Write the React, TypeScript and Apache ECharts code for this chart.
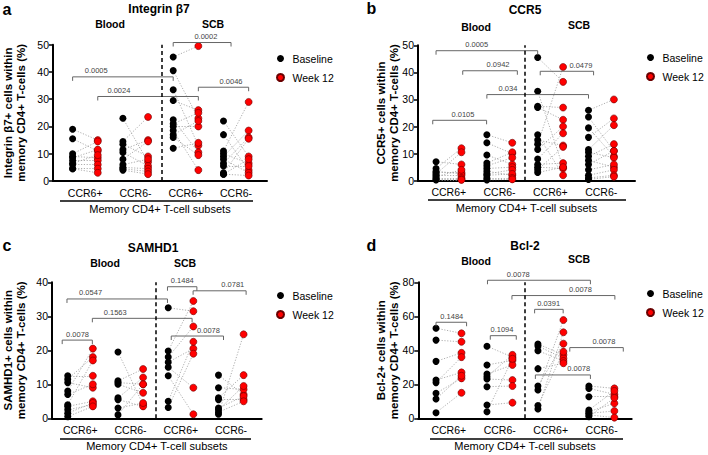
import { useEffect, useRef } from "react";
import * as echarts from "echarts";

// ---------- shared labels ----------
const subsetLabels = ["CCR6+", "CCR6-", "CCR6+", "CCR6-"];
const subsetLabelPositions = [1.5, 3.5, 5.5, 7.5];
const tissueLabels = ["Blood", "SCB"];
const xAxisTitle = "Memory CD4+ T-cell subsets";
const seriesNames = ["Baseline", "Week 12"];

// ---------- panel a: Integrin β7 ----------
const integrinBaseline = [
  [19, 15.5, 10, 9, 8.5, 7.5, 6.5, 6, 4.5, 4.5],
  [23, 14.5, 13.5, 11.5, 10.5, 8, 6, 5, 4.5, 4],
  [45.5, 40.5, 33.5, 29.5, 22.5, 21, 20, 18.5, 17, 16, 12],
  [22, 17, 11, 10, 9, 8, 6.5, 5.5, 3, 2.5, 2.5],
];
const integrinWeek12 = [
  [15, 11, 14.5, 8.5, 11.5, 7.5, 9.5, 6, 4.5, 3],
  [7, 23.5, 9, 15, 5.5, 14.5, 8, 4.5, 3.5, 2.5],
  [49.5, 23, 13, 26, 10.5, 25, 20, 4, 22, 9.5, 14],
  [9, 4, 29, 6.5, 18.5, 3, 16, 5.5, 15.5, 8, 2],
];
const integrinTicks = [0, 10, 20, 30, 40, 50];
const integrinComparisons = [
  { from: 1, to: 5, level: 38.2, labelAt: 1.94, p: "0.0005" },
  { from: 2, to: 6, level: 31, labelAt: 2.84, p: "0.0024" },
  { from: 5, to: 7.3, level: 50.8, labelAt: 6.3, p: "0.0002" },
  { from: 6, to: 8, level: 34.4, labelAt: 7.3, p: "0.0046" },
];

// ---------- panel b: CCR5 ----------
const ccr5Baseline = [
  [7, 4.5, 3.5, 3, 2.5, 2, 1.5, 1, 0.5, 0.3],
  [17, 14, 9.5, 6.5, 5.5, 4.5, 3.5, 2.5, 2, 1, 0.3],
  [45.5, 33, 27.5, 27, 17, 15, 13.5, 11.5, 8, 6, 5, 4, 3],
  [26, 23.5, 19.5, 16, 11.5, 10.5, 9, 7.5, 6, 4, 2, 1, 0.5],
];
const ccr5Week12 = [
  [6, 12, 2.5, 3, 10.5, 2, 4, 1, 0.5, 0.3],
  [14, 10, 6, 10.5, 8.5, 5, 2, 4, 2.5, 1, 0.5],
  [36.5, 5, 27, 22.5, 2, 13, 42, 20, 17.5, 6.5, 4.5, 12.5, 5],
  [30, 11, 9, 23, 20.5, 8.5, 13.5, 5, 11, 6, 4, 2, 1.5],
];
const ccr5Ticks = [0, 10, 20, 30, 40, 50];
const ccr5Comparisons = [
  { from: 1, to: 5, level: 48, labelAt: 2.6, p: "0.0005" },
  { from: 2.05, to: 4.2, level: 40.6, labelAt: 3.44, p: "0.0942" },
  { from: 3, to: 7, level: 31.8, labelAt: 3.83, p: "0.034" },
  { from: 5.1, to: 7.2, level: 40.4, labelAt: 6.7, p: "0.0479" },
  { from: 0.87, to: 2.99, level: 22.3, labelAt: 2.06, p: "0.0105" },
];

// ---------- panel c: SAMHD1 ----------
const samhd1Baseline = [
  [12.5, 11.5, 10.5, 8, 7, 4, 3.5, 2.5, 1.5, 0.5],
  [19.5, 11, 10.5, 10, 6, 5.5, 3, 1],
  [32.5, 19.8, 18, 16.5, 15, 12.5, 5, 3.2],
  [12.7, 9, 6, 5.5, 3, 2.5, 1.8, 1.2],
];
const samhd1Week12 = [
  [12.5, 18, 9, 20.5, 10, 17, 5, 4, 4.5, 3.5],
  [4, 14.5, 10, 7.5, 12, 3.5, 4.5, 10],
  [31.5, 34.5, 27, 20.5, 9, 1.2, 22.5, 19],
  [7, 8.5, 12.7, 5.5, 6.5, 9.5, 5, 24.7],
];
const samhd1Ticks = [0, 10, 20, 30, 40];
const samhd1Comparisons = [
  { from: 0.97, to: 4.97, level: 35.1, labelAt: 1.91, p: "0.0547" },
  { from: 1.98, to: 5.95, level: 29.4, labelAt: 2.89, p: "0.1563" },
  { from: 0.78, to: 1.98, level: 23, labelAt: 1.39, p: "0.0078" },
  { from: 4.97, to: 6.14, level: 38.7, labelAt: 5.56, p: "0.1484" },
  { from: 5.99, to: 8.1, level: 37.5, labelAt: 7.57, p: "0.0781" },
  { from: 5.12, to: 7.2, level: 24.2, labelAt: 6.6, p: "0.0078" },
];

// ---------- panel d: Bcl-2 ----------
const bcl2Baseline = [
  [53, 46, 33.5, 22.5, 21, 14.7, 11.4, 3.3],
  [42.4, 31.4, 26, 24.5, 23.1, 18.6, 7.8, 3.9],
  [43.7, 42.5, 39.8, 29.2, 19, 16.7, 7.5, 5.5],
  [19, 17.6, 12.7, 4.9, 3.9, 2.9, 2, 1],
];
const bcl2Week12 = [
  [50, 45, 38.5, 27, 36, 23.5, 25, 15],
  [36, 34, 31.4, 37.3, 22.5, 19, 9.2, 35],
  [37.3, 35.3, 33.7, 32.4, 43.9, 57.8, 39.2, 50.6],
  [17.6, 14.1, 12.7, 16.1, 8.8, 4.3, 0.4, 12],
];
const bcl2Ticks = [0, 20, 40, 60, 80];
const bcl2Comparisons = [
  { from: 3.02, to: 7.06, level: 81.2, labelAt: 4.23, p: "0.0078" },
  { from: 3.98, to: 8.02, level: 72.2, labelAt: 6.67, p: "0.0078" },
  { from: 1, to: 2.2, level: 56.5, labelAt: 1.62, p: "0.1484" },
  { from: 3.13, to: 4.15, level: 48.6, labelAt: 3.59, p: "0.1094" },
  { from: 4.87, to: 5.99, level: 64.1, labelAt: 5.42, p: "0.0391" },
  { from: 6.25, to: 8.35, level: 41.6, labelAt: 7.59, p: "0.0078" },
  { from: 4.9, to: 7.06, level: 25.5, labelAt: 6.6, p: "0.0078" },
];

// ---------- layout ----------
const FONT = "Liberation Sans, Arial, Helvetica, sans-serif";

const panels = [
  {
    letter: "a", title: "Integrin β7",
    yName: "Integrin β7+ cells within\nmemory CD4+ T-cells (%)", yNameGap: 26,
    baseline: integrinBaseline, week12: integrinWeek12, ticks: integrinTicks, comps: integrinComparisons,
    grid: { left: 49, top: 44.7, width: 218, height: 136.3 }, xMin: 0.22, xMax: 8.73, divider: 4.55,
    letterPos: [7, 9], titlePos: [159, 9], bloodPos: [110, 24], scbPos: [213, 24],
    legendPos: [271, 48], underline: [60, 253, 201],
  },
  {
    letter: "b", title: "CCR5",
    yName: "CCR5+ cells within\nmemory CD4+ T-cells (%)", yNameGap: 18,
    baseline: ccr5Baseline, week12: ccr5Week12, ticks: ccr5Ticks, comps: ccr5Comparisons,
    grid: { left: 418, top: 45.3, width: 217, height: 135.4 }, xMin: 0.29, xMax: 8.83, divider: 4.5,
    letterPos: [371.5, 8], titlePos: [525, 10], bloodPos: [476, 27], scbPos: [579, 25],
    legendPos: [641, 47], underline: [428, 626, 200],
  },
  {
    letter: "c", title: "SAMHD1",
    yName: "SAMHD1+ cells within\nmemory CD4+ T-cells (%)", yNameGap: 25,
    baseline: samhd1Baseline, week12: samhd1Week12, ticks: samhd1Ticks, comps: samhd1Comparisons,
    grid: { left: 48.3, top: 282.3, width: 213.4, height: 136 }, xMin: 0.374, xMax: 8.72, divider: 4.52,
    letterPos: [7, 245.5], titlePos: [153, 248], bloodPos: [105, 263], scbPos: [185, 263],
    legendPos: [271, 285], underline: [60, 251, 439],
  },
  {
    letter: "d", title: "Bcl-2",
    yName: "Bcl-2+ cells within\nmemory CD4+ T-cells (%)", yNameGap: 18,
    baseline: bcl2Baseline, week12: bcl2Week12, ticks: bcl2Ticks, comps: bcl2Comparisons,
    grid: { left: 418.3, top: 282.3, width: 213.4, height: 136 }, xMin: 0.305, xMax: 8.68, divider: 4.5,
    letterPos: [371.5, 245.5], titlePos: [525, 246], bloodPos: [476, 261], scbPos: [579, 259],
    legendPos: [641, 283], underline: [430, 623, 439],
  },
];

function buildOption() {
  const grid: any[] = [];
  const xAxis: any[] = [];
  const yAxis: any[] = [];
  const series: any[] = [];
  const legend: any[] = [];
  const graphic: any[] = [];

  panels.forEach((pn, i) => {
    grid.push({ ...pn.grid, containLabel: false });
    xAxis.push({
      gridIndex: i, type: "value", min: pn.xMin, max: pn.xMax,
      axisLine: { show: true, onZero: false, lineStyle: { color: "#000", width: 2 } },
      axisTick: { show: false },
      splitLine: { show: false },
      axisLabel: {
        customValues: subsetLabelPositions,
        formatter: (v: number) => subsetLabels[Math.round((v - 1.5) / 2)] ?? "",
        fontSize: 10.5, color: "#000", fontFamily: FONT, margin: 6,
      },
      name: xAxisTitle, nameLocation: "middle", nameGap: 22, nameMoveOverlap: false,
      nameTextStyle: { fontSize: 11, color: "#000", fontFamily: FONT },
    });
    const t = pn.ticks;
    yAxis.push({
      gridIndex: i, type: "value", min: t[0], max: t[t.length - 1], interval: t[1] - t[0],
      axisLine: { show: true, onZero: false, lineStyle: { color: "#000", width: 2 } },
      axisTick: { show: true, length: 4, lineStyle: { color: "#000", width: 1.5 } },
      splitLine: { show: false },
      axisLabel: { fontSize: 10.5, color: "#000", fontFamily: FONT, margin: 4 },
      name: pn.yName, nameLocation: "middle", nameRotate: 90, nameGap: pn.yNameGap,
      nameMoveOverlap: false,
      nameTextStyle: { fontSize: 11.5, fontWeight: "bold", color: "#000", fontFamily: FONT, lineHeight: 13 },
    });

    // pairing lines (baseline -> week 12, same subject)
    const pairLines: any[] = [];
    pn.baseline.forEach((grp, g) => {
      grp.forEach((v, k) => {
        const w = pn.week12[g][k];
        if (w !== undefined) pairLines.push({ coords: [[g * 2 + 1, v], [g * 2 + 2, w]] });
      });
    });
    series.push({
      type: "lines", coordinateSystem: "cartesian2d", xAxisIndex: i, yAxisIndex: i,
      silent: true, z: 1, polyline: false,
      lineStyle: { color: "#9a9a9a", width: 0.8, type: [1.2, 1.6], opacity: 1 },
      data: pairLines,
    });

    const basePts: number[][] = [];
    const wkPts: number[][] = [];
    pn.baseline.forEach((grp, g) => grp.forEach((v) => basePts.push([g * 2 + 1, v])));
    pn.week12.forEach((grp, g) => grp.forEach((v) => wkPts.push([g * 2 + 2, v])));

    series.push({
      name: seriesNames[0], type: "scatter", xAxisIndex: i, yAxisIndex: i, z: 3,
      symbol: "circle", symbolSize: 7, itemStyle: { color: "#000", opacity: 1 }, data: basePts,
      markLine: {
        silent: true, symbol: ["none", "none"], label: { show: false },
        lineStyle: { color: "#000", type: [4, 3], width: 1.5 },
        data: [{ xAxis: pn.divider }],
      },
    });
    series.push({
      name: seriesNames[1], type: "scatter", xAxisIndex: i, yAxisIndex: i, z: 3,
      symbol: "circle", symbolSize: 7,
      itemStyle: { color: "#ff0000", borderColor: "#6a0000", borderWidth: 0.6, opacity: 1 },
      data: wkPts,
    });

    const comps = pn.comps;
    series.push({
      type: "custom", xAxisIndex: i, yAxisIndex: i, clip: false, silent: true, z: 4,
      data: comps.map((c) => [c.from, c.level]),
      renderItem: (params: any, api: any) => {
        const c = comps[params.dataIndex];
        const a = api.coord([c.from, c.level]);
        const b = api.coord([c.to, c.level]);
        const l = api.coord([c.labelAt, c.level]);
        return {
          type: "group",
          children: [
            {
              type: "polyline",
              shape: { points: [[a[0], a[1] + 4], [a[0], a[1]], [b[0], b[1]], [b[0], b[1] + 4]] },
              style: { stroke: "#666", lineWidth: 1, fill: null },
            },
            {
              type: "text",
              style: {
                text: c.p, x: l[0], y: l[1] - 2, align: "center", verticalAlign: "bottom",
                fontSize: 7.5, fontFamily: FONT, fill: "#444",
              },
            },
          ],
        };
      },
    });

    legend.push({
      data: seriesNames, orient: "vertical", left: pn.legendPos[0], top: pn.legendPos[1],
      icon: "circle", itemWidth: 14, itemHeight: 7, itemGap: 8, selectedMode: false,
      textStyle: { fontSize: 10.5, color: "#000", fontFamily: FONT },
    });

    const txt = (text: string, pos: number[], size: number, bold = true) => ({
      type: "text", x: pos[0], y: pos[1], silent: true,
      style: {
        text, fontSize: size, fontWeight: bold ? "bold" : "normal", fontFamily: FONT, fill: "#000",
        align: "center", verticalAlign: "middle", textAlign: "center", textVerticalAlign: "middle",
      },
    });
    graphic.push(txt(pn.letter, pn.letterPos, 16));
    graphic.push(txt(pn.title, pn.titlePos, 12));
    graphic.push(txt(tissueLabels[0], pn.bloodPos, 10.5));
    graphic.push(txt(tissueLabels[1], pn.scbPos, 10.5));
    graphic.push({
      type: "line", silent: true,
      shape: { x1: pn.underline[0], y1: pn.underline[2], x2: pn.underline[1], y2: pn.underline[2] },
      style: { stroke: "#000", lineWidth: 1.3 },
    });
  });

  return {
    animation: false,
    backgroundColor: "#fff",
    textStyle: { fontFamily: FONT },
    grid, xAxis, yAxis, series, legend, graphic,
  };
}

export default function App() {
  const ref = useRef<HTMLDivElement>(null);
  useEffect(() => {
    document.body.style.margin = "0";
    if (!ref.current) return;
    const chart = echarts.init(ref.current, undefined, { renderer: "svg" });
    chart.setOption(buildOption() as any);
    return () => chart.dispose();
  }, []);
  return <div ref={ref} style={{ width: 708, height: 455 }} />;
}
